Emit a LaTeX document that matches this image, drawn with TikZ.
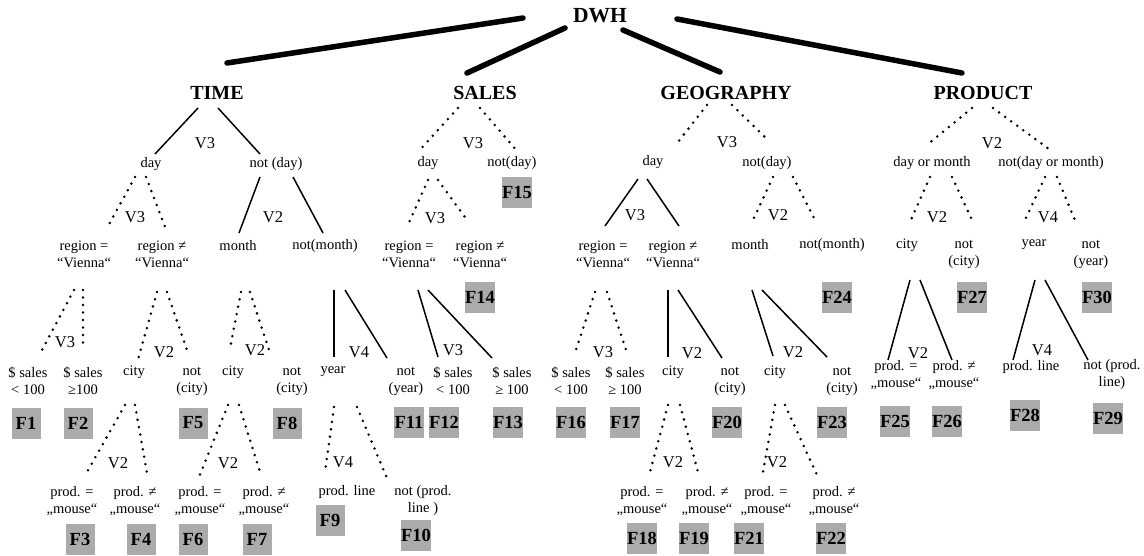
\documentclass[tikz,border=0pt]{standalone}
\usepackage{fontspec}
\setmainfont{Liberation Serif}
\tikzset{
    root/.style={font=\bfseries\fontsize{21.5}{24}\selectfont, inner sep=0pt},
    dim/.style={font=\bfseries\fontsize{20}{23}\selectfont, inner sep=0pt},
    cond/.style={font=\fontsize{14.5}{17}\selectfont, align=center, inner sep=0pt},
    vlab/.style={font=\fontsize{16.5}{19}\selectfont, inner sep=0pt},
    frag/.style={font=\bfseries\fontsize{18.5}{21}\selectfont, fill=black!33, minimum width=29pt, minimum height=31pt, inner xsep=0.5pt},
    dimedge/.style={line width=5.5pt, line cap=round},
    tedge/.style={line width=1.5pt},
    dotedge/.style={line width=2.8pt, line cap=round, dash pattern=on 0pt off 7.5pt},
}
\begin{document}
\begin{tikzpicture}[x=1pt,y=-1pt]
    \useasboundingbox (0,0) rectangle (1144,555);
    % root and dimensions
    \node[root] (dwh) at (600,16) {DWH};
    \node[dim] (time) at (217,93) {TIME};
    \node[dim] (sales) at (485,93) {SALES};
    \node[dim] (geo) at (726,93) {GEOGRAPHY};
    \node[dim] (prod) at (983,93) {PRODUCT};
    \draw[dimedge] ([shift={(-77,2)}]dwh.center) -- ([shift={(10,-30)}]time.center);
    \draw[dimedge] ([shift={(-35,12)}]dwh.center) -- ([shift={(-18,-20)}]sales.center);
    \draw[dimedge] ([shift={(23,14)}]dwh.center) -- ([shift={(-6,-21)}]geo.center);
    \draw[dimedge] ([shift={(77,3)}]dwh.center) -- ([shift={(-21,-20)}]prod.center);

    % TIME
    \node[cond] (tday) at (151,164) {day};
    \node[cond] (tnday) at (276,164) {not (day)};
    \node[vlab] (tv1) at (205,143) {V3};
    \draw[tedge] ([shift={(-19,15)}]time.center) -- ([shift={(4,-10)}]tday.center);
    \draw[tedge] ([shift={(1,15)}]time.center) -- ([shift={(-16,-10)}]tnday.center);

    \node[cond] (treg) at (84,254) {region =\\“Vienna“};
    \node[cond] (tnreg) at (162,254) {region ≠\\“Vienna“};
    \node[vlab] (tv2) at (135,217) {V3};
    \draw[dotedge] ([shift={(-16,13)}]tday.center) -- ([shift={(23,-26)}]treg.center);
    \draw[dotedge] ([shift={(-5,13)}]tday.center) -- ([shift={(5,-22)}]tnreg.center);

    \node[cond] (tmonth) at (238,246) {month};
    \node[cond] (tnmonth) at (325,246) {not(month)};
    \node[vlab] (tv3) at (273,217) {V2};
    \draw[tedge] ([shift={(-16,13)}]tnday.center) -- ([shift={(1,-13)}]tmonth.center);
    \draw[tedge] ([shift={(17,13)}]tnday.center) -- ([shift={(-2,-13)}]tnmonth.center);

    \node[cond] (ts1) at (28,381) {\$ sales\\< 100};
    \node[cond] (ts2) at (83,381) {\$ sales\\≥100};
    \node[vlab] (tv4) at (65,342) {V3};
    \draw[dotedge] ([shift={(-10,36)}]treg.center) -- ([shift={(14,-31)}]ts1.center);
    \draw[dotedge] ([shift={(-1,36)}]treg.center) -- ([shift={(0,-31)}]ts2.center);
    \node[frag] (f1) at (26,423) {F1};
    \node[frag] (f2) at (78,423) {F2};

    \node[cond] (tcity1) at (134,372) {city};
    \node[cond] (tncity1) at (192,381) {not\\(city)};
    \node[vlab] (tv5) at (164,352) {V2};
    \draw[dotedge] ([shift={(-5,38)}]tnreg.center) -- ([shift={(3,-9)}]tcity1.center);
    \draw[dotedge] ([shift={(5,38)}]tnreg.center) -- ([shift={(-4,-28)}]tncity1.center);
    \node[frag] (f5) at (193,423) {F5};

    \node[cond] (tcity2) at (233,372) {city};
    \node[cond] (tncity2) at (292,381) {not\\(city)};
    \node[vlab] (tv6) at (255,350) {V2};
    \draw[dotedge] ([shift={(3,46)}]tmonth.center) -- ([shift={(-3,-24)}]tcity2.center);
    \draw[dotedge] ([shift={(12,46)}]tmonth.center) -- ([shift={(-22,-28)}]tncity2.center);
    \node[frag] (f8) at (287,423) {F8};

    \node[cond] (tyear) at (333,372) {year};
    \node[cond] (tnyear) at (406,381) {not\\(year)};
    \node[vlab] (tv7) at (359,352) {V4};
    \draw[tedge] ([shift={(9,44)}]tnmonth.center) -- ([shift={(1,-15)}]tyear.center);
    \draw[tedge] ([shift={(20,44)}]tnmonth.center) -- ([shift={(-19,-23)}]tnyear.center);
    \node[frag] (f11) at (409,422) {F11};

    \node[cond] (tpm1) at (72,501) {prod. =\\„mouse“};
    \node[cond] (tpn1) at (135,501) {prod. ≠\\„mouse“};
    \node[vlab] (tv8) at (118,463) {V2};
    \draw[dotedge] ([shift={(-9,33)}]tcity1.center) -- ([shift={(15,-29)}]tpm1.center);
    \draw[dotedge] ([shift={(1,33)}]tcity1.center) -- ([shift={(12,-28)}]tpn1.center);
    \node[frag] (f3) at (80,539) {F3};
    \node[frag] (f4) at (141,539) {F4};

    \node[cond] (tpm2) at (200,501) {prod. =\\„mouse“};
    \node[cond] (tpn2) at (264,501) {prod. ≠\\„mouse“};
    \node[vlab] (tv9) at (228,463) {V2};
    \draw[dotedge] ([shift={(-5,33)}]tcity2.center) -- ([shift={(-1,-24)}]tpm2.center);
    \draw[dotedge] ([shift={(6,33)}]tcity2.center) -- ([shift={(-4,-29)}]tpn2.center);
    \node[frag] (f6) at (193,539) {F6};
    \node[frag] (f7) at (257,539) {F7};

    \node[cond] (tpl) at (347,492) {prod. line};
    \node[cond] (tnpl) at (423,501) {not (prod.\\line )};
    \node[vlab] (tv10) at (343,462) {V4};
    \draw[dotedge] ([shift={(1,35)}]tyear.center) -- ([shift={(-22,-20)}]tpl.center);
    \draw[dotedge] ([shift={(24,35)}]tyear.center) -- ([shift={(-36,-23)}]tnpl.center);
    \node[frag] (f9) at (330,520) {F9};
    \node[frag] (f10) at (416,535) {F10};

    % SALES
    \node[cond] (sday) at (428,163) {day};
    \node[cond] (snday) at (512,163) {not(day)};
    \node[vlab] (sv1) at (473,143) {V3};
    \draw[dotedge] ([shift={(-27,15)}]sales.center) -- ([shift={(-10,-11)}]sday.center);
    \draw[dotedge] ([shift={(-5,15)}]sales.center) -- ([shift={(6,-11)}]snday.center);
    \node[frag] (f15) at (517,192) {F15};

    \node[cond] (sreg) at (409,254) {region =\\“Vienna“};
    \node[cond] (snreg) at (480,254) {region ≠\\“Vienna“};
    \node[vlab] (sv2) at (435,218) {V3};
    \draw[dotedge] ([shift={(0,17)}]sday.center) -- ([shift={(-2,-27)}]sreg.center);
    \draw[dotedge] ([shift={(10,17)}]sday.center) -- ([shift={(-13,-34)}]snreg.center);
    \node[frag] (f14) at (480,297) {F14};

    \node[cond] (ss1) at (453,381) {\$ sales\\< 100};
    \node[cond] (ss2) at (512,381) {\$ sales\\≥ 100};
    \node[vlab] (sv3) at (453,350) {V3};
    \draw[tedge] ([shift={(9,36)}]sreg.center) -- ([shift={(-15,-24)}]ss1.center);
    \draw[tedge] ([shift={(19,36)}]sreg.center) -- ([shift={(-20,-23)}]ss2.center);
    \node[frag] (f12) at (444,422) {F12};
    \node[frag] (f13) at (508,422) {F13};

    % GEOGRAPHY
    \node[cond] (gday) at (653,162) {day};
    \node[cond] (gnday) at (767,163) {not(day)};
    \node[vlab] (gv1) at (727,142) {V3};
    \draw[dotedge] ([shift={(-19,12)}]geo.center) -- ([shift={(25,-20)}]gday.center);
    \draw[dotedge] ([shift={(6,12)}]geo.center) -- ([shift={(1,-23)}]gnday.center);

    \node[cond] (greg) at (603,254) {region =\\“Vienna“};
    \node[cond] (gnreg) at (673,254) {region ≠\\“Vienna“};
    \node[vlab] (gv2) at (635,215) {V3};
    \draw[tedge] ([shift={(-15,17)}]gday.center) -- ([shift={(2,-28)}]greg.center);
    \draw[tedge] ([shift={(-6,17)}]gday.center) -- ([shift={(6,-28)}]gnreg.center);

    \node[cond] (gmonth) at (750,245) {month};
    \node[cond] (gnmonth) at (832,245) {not(month)};
    \node[vlab] (gv3) at (778,215) {V2};
    \draw[dotedge] ([shift={(6,14)}]gnday.center) -- ([shift={(3,-25)}]gmonth.center);
    \draw[dotedge] ([shift={(26,14)}]gnday.center) -- ([shift={(-17,-25)}]gnmonth.center);
    \node[frag] (f24) at (837,297) {F24};

    \node[cond] (gs1) at (571,381) {\$ sales\\< 100};
    \node[cond] (gs2) at (625,381) {\$ sales\\≥ 100};
    \node[vlab] (gv4) at (603,352) {V3};
    \draw[dotedge] ([shift={(-8,38)}]greg.center) -- ([shift={(4,-28)}]gs1.center);
    \draw[dotedge] ([shift={(4,38)}]greg.center) -- ([shift={(2,-28)}]gs2.center);
    \node[frag] (f16) at (571,422) {F16};
    \node[frag] (f17) at (625,422) {F17};

    \node[cond] (gcity1) at (673,372) {city};
    \node[cond] (gncity1) at (730,381) {not\\(city)};
    \node[vlab] (gv5) at (692,353) {V2};
    \draw[tedge] ([shift={(-5,36)}]gnreg.center) -- ([shift={(-5,-15)}]gcity1.center);
    \draw[tedge] ([shift={(5,36)}]gnreg.center) -- ([shift={(-8,-23)}]gncity1.center);
    \node[frag] (f20) at (727,422) {F20};

    \node[cond] (gcity2) at (775,372) {city};
    \node[cond] (gncity2) at (842,381) {not\\(city)};
    \node[vlab] (gv6) at (793,352) {V2};
    \draw[tedge] ([shift={(2,45)}]gmonth.center) -- ([shift={(-2,-16)}]gcity2.center);
    \draw[tedge] ([shift={(12,45)}]gmonth.center) -- ([shift={(-15,-24)}]gncity2.center);
    \node[frag] (f23) at (832,422) {F23};

    \node[cond] (gpm1) at (642,501) {prod. =\\„mouse“};
    \node[cond] (gpn1) at (707,501) {prod. ≠\\„mouse“};
    \node[vlab] (gv7) at (673,462) {V2};
    \draw[dotedge] ([shift={(-5,33)}]gcity1.center) -- ([shift={(8,-29)}]gpm1.center);
    \draw[dotedge] ([shift={(7,33)}]gcity1.center) -- ([shift={(-9,-29)}]gpn1.center);
    \node[frag] (f18) at (642,538) {F18};
    \node[frag] (f19) at (694,538) {F19};

    \node[cond] (gpm2) at (766,501) {prod. =\\„mouse“};
    \node[cond] (gpn2) at (834,501) {prod. ≠\\„mouse“};
    \node[vlab] (gv8) at (777,462) {V2};
    \draw[dotedge] ([shift={(0,33)}]gcity2.center) -- ([shift={(-3,-29)}]gpm2.center);
    \draw[dotedge] ([shift={(10,33)}]gcity2.center) -- ([shift={(-17,-26)}]gpn2.center);
    \node[frag] (f21) at (749,538) {F21};
    \node[frag] (f22) at (831,538) {F22};

    % PRODUCT
    \node[cond] (pdm) at (932,163) {day or month};
    \node[cond] (pndm) at (1051,163) {not(day or month)};
    \node[vlab] (pv1) at (992,143) {V2};
    \draw[dotedge] ([shift={(-11,15)}]prod.center) -- ([shift={(-5,-18)}]pdm.center);
    \draw[dotedge] ([shift={(10,15)}]prod.center) -- ([shift={(2,-11)}]pndm.center);

    \node[cond] (pcity) at (907,245) {city};
    \node[cond] (pncity) at (964,254) {not\\(city)};
    \node[vlab] (pv2) at (937,217) {V2};
    \draw[dotedge] ([shift={(-2,14)}]pdm.center) -- ([shift={(3,-23)}]pcity.center);
    \draw[dotedge] ([shift={(20,14)}]pdm.center) -- ([shift={(9,-32)}]pncity.center);
    \node[frag] (f27) at (972,297) {F27};

    \node[cond] (pyear) at (1034,245) {year};
    \node[cond] (pnyear) at (1091,254) {not\\(year)};
    \node[vlab] (pv3) at (1048,217) {V4};
    \draw[dotedge] ([shift={(-6,14)}]pndm.center) -- ([shift={(-9,-25)}]pyear.center);
    \draw[dotedge] ([shift={(6,14)}]pndm.center) -- ([shift={(-14,-29)}]pnyear.center);
    \node[frag] (f30) at (1097,297) {F30};

    \node[cond] (ppm) at (896,375) {prod. =\\„mouse“};
    \node[cond] (ppn) at (954,375) {prod. ≠\\„mouse“};
    \node[vlab] (pv4) at (918,353) {V2};
    \draw[tedge] ([shift={(3,35)}]pcity.center) -- ([shift={(-8,-15)}]ppm.center);
    \draw[tedge] ([shift={(13,35)}]pcity.center) -- ([shift={(-2,-15)}]ppn.center);
    \node[frag] (f25) at (895,421) {F25};
    \node[frag] (f26) at (947,421) {F26};

    \node[cond] (ppl) at (1031,367) {prod. line};
    \node[cond] (pnpl) at (1112,375) {not (prod.\\line)};
    \node[vlab] (pv5) at (1042,350) {V4};
    \draw[tedge] ([shift={(1,35)}]pyear.center) -- ([shift={(-18,-7)}]ppl.center);
    \draw[tedge] ([shift={(11,35)}]pyear.center) -- ([shift={(-24,-15)}]pnpl.center);
    \node[frag] (f28) at (1025,415) {F28};
    \node[frag] (f29) at (1108,418) {F29};
\end{tikzpicture}
\end{document}
